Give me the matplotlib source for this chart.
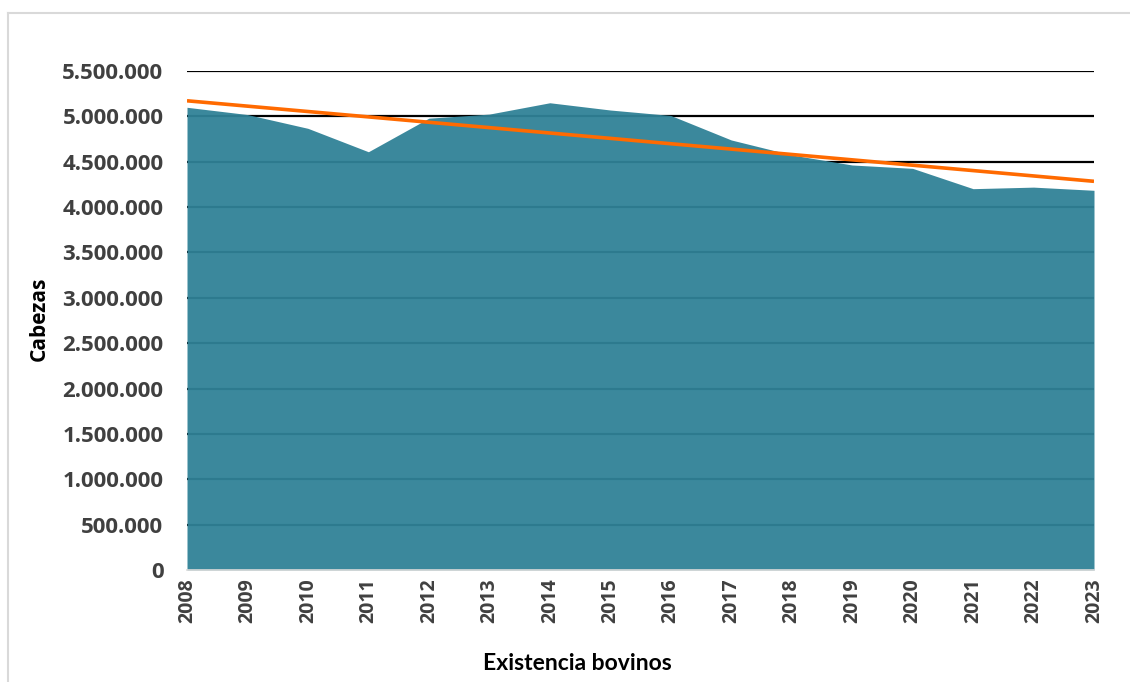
import matplotlib
matplotlib.use("Agg")
import matplotlib.pyplot as plt
import numpy as np
from matplotlib.ticker import FuncFormatter
from matplotlib.lines import Line2D

years = [2008, 2009, 2010, 2011, 2012, 2013, 2014, 2015,
         2016, 2017, 2018, 2019, 2020, 2021, 2022, 2023]
cabezas = [5100000, 5020000, 4868000, 4610000, 4980000, 5025000, 5150000, 5070000,
           5010000, 4740000, 4575000, 4464000, 4427000, 4203000, 4220000, 4185000]
y_ticks = [0, 500000, 1000000, 1500000, 2000000, 2500000, 3000000,
           3500000, 4000000, 4500000, 5000000, 5500000]

W, H = 1130, 682
fig = plt.figure(figsize=(W / 100, H / 100), dpi=100)
ax = fig.add_axes([187 / W, 1 - 570 / H, (1094 - 187) / W, (570 - 71) / H])

x = np.arange(len(years))
y = np.array(cabezas, dtype=float)

# gridlines behind area
for t in y_ticks[1:]:
    ax.axhline(t, color="black", lw=1.6, zorder=1)

ax.fill_between(x, 0, y, color=(0.187, 0.508, 0.592), alpha=0.95, lw=0, zorder=2)

# linear trend
m, b = np.polyfit(x, y, 1)
ax.plot(x, m * x + b, color="#FF6A00", lw=2.6, zorder=3, solid_capstyle="butt")

ax.set_xlim(0, len(years) - 1)
ax.set_ylim(0, 5500000)
ax.set_yticks(y_ticks)
ax.yaxis.set_major_formatter(FuncFormatter(lambda v, p: f"{int(v):,}".replace(",", ".")))
ax.set_xticks(x)
ax.set_xticklabels([str(v) for v in years], rotation=90)

for s in ["top", "right", "left"]:
    ax.spines[s].set_visible(False)
ax.spines["bottom"].set_color("#D9D9D9")
ax.spines["bottom"].set_linewidth(1.2)
ax.spines["bottom"].set_zorder(4)
ax.tick_params(axis="both", length=0, colors="#404040")
ax.tick_params(axis="y", pad=17, labelsize=16)
ax.tick_params(axis="x", pad=6, labelsize=14)
for lab in ax.get_xticklabels() + ax.get_yticklabels():
    lab.set_fontfamily("Open Sans")
    lab.set_fontweight("bold")

fig.text(39 / W, 1 - 319 / H, "Cabezas", rotation=90, ha="center", va="center",
         fontsize=15, fontweight="bold", family="Open Sans", color="black")
fig.text(577 / W, 1 - 664 / H, "Existencia bovinos", ha="center", va="center",
         fontsize=16.5, fontweight="bold", family="Lato", color="black")

# outer chart border
fig.add_artist(Line2D([8 / W, 8 / W], [0, 1 - 13 / H], transform=fig.transFigure,
                      color="#D9D9D9", lw=1.5))
fig.add_artist(Line2D([8 / W, 1], [1 - 13 / H, 1 - 13 / H], transform=fig.transFigure,
                      color="#D9D9D9", lw=1.5))

fig.savefig("out.png", dpi=100)
